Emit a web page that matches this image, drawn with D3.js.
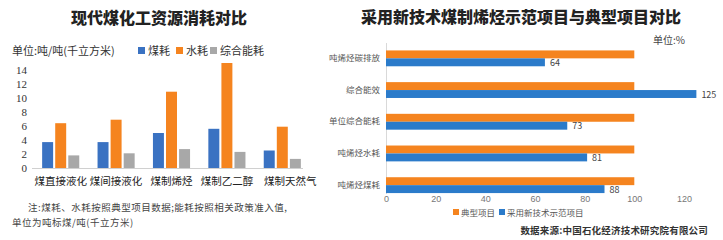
<!DOCTYPE html>
<html><head><meta charset="utf-8">
<script src="https://cdn.jsdelivr.net/npm/d3@7/dist/d3.min.js"></script>
<style>
body{margin:0;background:#fff;}
svg{display:block;font-family:"Noto Sans CJK SC","Noto Sans",sans-serif;}
</style></head>
<body>
<svg id="c" width="723" height="240"></svg>
<script>
// Left chart data
const leftCategories = ["煤直接液化","煤间接液化","煤制烯烃","煤制乙二醇","煤制天然气"];
const leftSeries = ["煤耗","水耗","综合能耗"];
const coalUse = [3.7, 3.7, 5.0, 5.6, 2.5];
const waterUse = [6.4, 6.9, 10.9, 15.0, 5.9];
const energyUse = [1.8, 2.1, 2.7, 2.3, 1.3];
const leftTicks = [0,2,4,6,8,10,12,14];

// Right chart data
const rightCategories = ["吨烯烃碳排放","综合能效","单位综合能耗","吨烯烃水耗","吨烯烃煤耗"];
const rightSeries = ["典型项目","采用新技术示范项目"];
const typicalValues = [100,100,100,100,100];
const newTechValues = [64,125,73,81,88];
const rightTicks = [0,20,40,60,80,100,120];

const BLUE="#3a72c2", ORANGE="#f5841f", GRAY="#a8a8a8", BLUE2="#2b7bca";
const svg = d3.select("#c");

// ---------- Left chart ----------
svg.append("text").attr("x",159).attr("y",24).attr("text-anchor","middle")
  .attr("font-size",16).attr("font-weight",900).attr("fill","#222")
  .text("现代煤化工资源消耗对比");
svg.append("text").attr("x",12).attr("y",55).attr("font-size",11).attr("fill","#333")
  .text("单位:吨/吨(千立方米)");
const lcol=[BLUE,ORANGE,GRAY];
const lgX=[138,176,210];
leftSeries.forEach((s,i)=>{
  svg.append("rect").attr("x",lgX[i]).attr("y",47).attr("width",7).attr("height",7).attr("fill",lcol[i]);
  svg.append("text").attr("x",lgX[i]+10).attr("y",55).attr("font-size",11).attr("fill","#333").text(s);
});
const x0 = d3.scaleBand().domain(leftCategories).range([33,310]).paddingInner(0).paddingOuter(0);
const x1 = d3.scaleBand().domain(leftSeries).range([0,x0.bandwidth()]).paddingInner(0.16).paddingOuter(0.7);
const yL = d3.scaleLinear().domain([0,14]).range([168,70]);
const lvals=[coalUse,waterUse,energyUse];
const gL = svg.append("g");
leftCategories.forEach((c,ci)=>{
  leftSeries.forEach((s,si)=>{
    const v=lvals[si][ci];
    gL.append("rect").attr("x",x0(c)+x1(s)).attr("width",x1.bandwidth())
      .attr("y",yL(v)).attr("height",yL(0)-yL(v)).attr("fill",lcol[si]);
  });
});
svg.append("line").attr("x1",32).attr("x2",303).attr("y1",168.5).attr("y2",168.5).attr("stroke","#d0d0d0");
const yAxisL = d3.axisLeft(yL).tickValues(leftTicks).tickSize(0).tickPadding(0);
const ya = svg.append("g").attr("transform","translate(27,0)").call(yAxisL);
ya.select(".domain").remove();
ya.selectAll("text").attr("font-family","'Liberation Serif',serif").attr("font-size",11).attr("fill","#333");
const xAxisL = d3.axisBottom(x0).tickSize(0).tickPadding(0);
const xa = svg.append("g").attr("transform","translate(0,178)").call(xAxisL);
xa.select(".domain").remove();
xa.selectAll("text").attr("font-size",10.5).attr("fill","#222").attr("font-family","'Noto Sans CJK SC',sans-serif");
xa.selectAll(".tick").filter((d,i)=>i===4).select("text").attr("dx",8);
svg.append("text").attr("x",28).attr("y",211).attr("font-size",9.5).attr("letter-spacing",0.5).attr("fill","#444")
  .text("注:煤耗、水耗按照典型项目数据;能耗按照相关政策准入值,");
svg.append("text").attr("x",12).attr("y",226).attr("font-size",9.5).attr("letter-spacing",0.5).attr("fill","#444")
  .text("单位为吨标煤/吨(千立方米)");

// ---------- Right chart ----------
svg.append("text").attr("x",521).attr("y",23).attr("text-anchor","middle")
  .attr("font-size",16).attr("font-weight",900).attr("fill","#222")
  .text("采用新技术煤制烯烃示范项目与典型项目对比");
svg.append("text").attr("x",685).attr("y",44).attr("text-anchor","end")
  .attr("font-size",10).attr("fill","#444").text("单位:%");
const xR = d3.scaleLinear().domain([0,100]).range([386,634.3]);
const yR = d3.scaleBand().domain(rightCategories).range([42.5,201]).paddingInner(0).paddingOuter(0);
const yR1 = d3.scaleBand().domain(rightSeries).range([0,yR.bandwidth()]).paddingInner(0).paddingOuter(1.0);
svg.append("line").attr("x1",386.5).attr("x2",386.5).attr("y1",43).attr("y2",194).attr("stroke","#d9d9d9");
const rvals=[typicalValues,newTechValues], rcol=[ORANGE,BLUE2];
rightCategories.forEach((c,ci)=>{
  rightSeries.forEach((s,si)=>{
    const v=rvals[si][ci];
    svg.append("rect").attr("x",xR(0)).attr("y",yR(c)+yR1(s)).attr("height",yR1.bandwidth())
      .attr("width",xR(v)-xR(0)).attr("fill",rcol[si]);
    if(si===1){
      svg.append("text").attr("x",xR(v)+5).attr("y",yR(c)+yR1(s)+yR1.bandwidth()/2+3.5)
        .attr("font-size",9).attr("fill","#444").text(v);
    }
  });
});
const yAxisR = d3.axisLeft(yR).tickSize(0).tickPadding(0);
const yra = svg.append("g").attr("transform","translate(380,0)").call(yAxisR);
yra.select(".domain").remove();
yra.selectAll("text").attr("font-size",8.5).attr("fill","#555").attr("font-family","'Noto Sans CJK SC',sans-serif");
const xra = svg.append("g").attr("transform","translate(0,196)")
  .call(d3.axisBottom(xR).tickValues(rightTicks).tickSize(0).tickPadding(0));
xra.select(".domain").remove();
xra.selectAll("text").attr("font-size",9).attr("fill","#777").attr("font-family","'Liberation Sans',sans-serif");
const rlg=[{x:453,c:ORANGE,t:rightSeries[0]},{x:499,c:BLUE2,t:rightSeries[1]}];
rlg.forEach(d=>{
  svg.append("rect").attr("x",d.x).attr("y",209).attr("width",6).attr("height",6).attr("fill",d.c);
  svg.append("text").attr("x",d.x+8).attr("y",215.5).attr("font-size",8.5).attr("fill","#555").text(d.t);
});
svg.append("text").attr("x",708).attr("y",234).attr("text-anchor","end")
  .attr("font-size",9.5).attr("font-weight",700).attr("letter-spacing",0.2).attr("fill","#333")
  .text("数据来源:中国石化经济技术研究院有限公司");
</script>
</body></html>
